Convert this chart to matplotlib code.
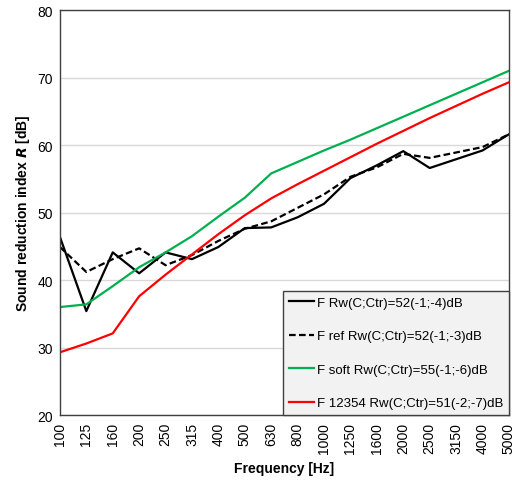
import numpy as np
import matplotlib
matplotlib.use('Agg')
import matplotlib.pyplot as plt

plt.rcParams['font.family'] = ['Liberation Sans', 'DejaVu Sans']

freqs = ['100', '125', '160', '200', '250', '315', '400', '500', '630', '800',
         '1000', '1250', '1600', '2000', '2500', '3150', '4000', '5000']

r_f = [46.4, 35.4, 44.1, 41.0, 44.1, 43.1, 44.9, 47.7, 47.8, 49.3,
       51.3, 55.1, 57.0, 59.1, 56.6, 57.9, 59.2, 61.6]
r_ref = [44.9, 41.2, 43.1, 44.7, 42.2, 43.7, 45.8, 47.6, 48.7, 50.7,
         52.7, 55.3, 56.7, 58.7, 58.1, 58.9, 59.7, 61.6]
r_soft = [36.0, 36.4, 39.1, 41.9, 44.1, 46.5, 49.4, 52.2, 55.8, 57.5,
          59.2, 60.8, 62.5, 64.2, 65.9, 67.6, 69.3, 71.0]
r_12354 = [29.3, 30.6, 32.1, 37.6, 40.8, 43.8, 46.8, 49.6, 52.1, 54.2,
           56.2, 58.2, 60.2, 62.1, 64.0, 65.8, 67.6, 69.3]

labels = ['F Rw(C;Ctr)=52(-1;-4)dB',
          'F ref Rw(C;Ctr)=52(-1;-3)dB',
          'F soft Rw(C;Ctr)=55(-1;-6)dB',
          'F 12354 Rw(C;Ctr)=51(-2;-7)dB']

x = np.arange(len(freqs))

fig = plt.figure(figsize=(5.12, 4.81), dpi=100)
ax = fig.add_axes([0.117, 0.135, 0.877, 0.842])

ax.plot(x, r_f, color='black', lw=1.6, label=labels[0])
ax.plot(x, r_ref, color='black', lw=1.6, ls=(0, (3, 1.5)), label=labels[1])
ax.plot(x, r_soft, color='#00b050', lw=1.6, label=labels[2])
ax.plot(x, r_12354, color='#ff0000', lw=1.6, label=labels[3])

ax.set_xlim(0, len(freqs) - 1)
ax.set_ylim(20, 80)
ax.set_yticks(np.arange(20, 81, 10))
ax.set_xticks(x)
ax.set_xticklabels(freqs, rotation=90)
ax.tick_params(length=0, labelsize=10, pad=5)
ax.yaxis.grid(True, color='#d9d9d9', lw=1)
ax.set_axisbelow(True)
for s in ax.spines.values():
    s.set_color('#404040')
    s.set_linewidth(1)

ax.set_xlabel('Frequency [Hz]', fontsize=10, fontweight='bold', labelpad=6)
ax.set_ylabel(r'Sound reduction index $\bfit{R}$ [dB]', fontsize=10,
              fontweight='bold', labelpad=4)

leg = ax.legend(loc='lower right', bbox_to_anchor=(1.0, 0.0), fontsize=9.5,
                handlelength=1.9, handletextpad=0.2, labelspacing=1.6,
                borderpad=0.45, borderaxespad=0.0, fancybox=False,
                frameon=True)
leg.get_frame().set_facecolor('#f2f2f2')
leg.get_frame().set_edgecolor('#404040')
leg.get_frame().set_linewidth(1)
leg.get_frame().set_alpha(1)

fig.savefig('out.png', dpi=100)
